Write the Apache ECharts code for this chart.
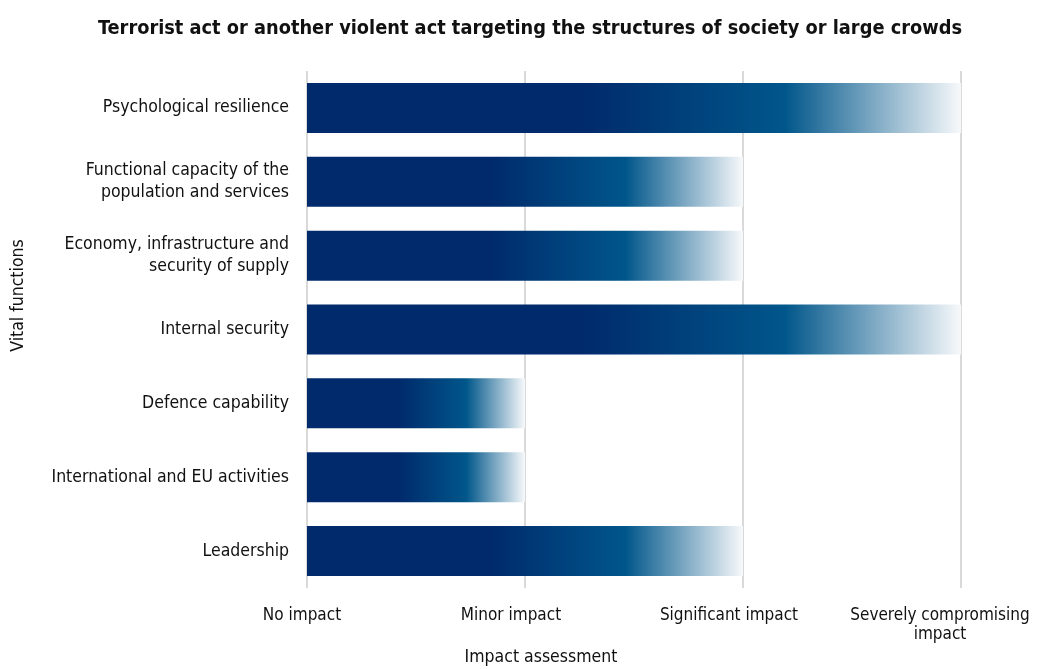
<!DOCTYPE html>
<html>
<head>
<meta charset="utf-8">
<script src="https://cdn.jsdelivr.net/npm/echarts@6/dist/echarts.min.js"></script>
<style>
  html, body { margin: 0; padding: 0; background: #fff; }
  #chart { width: 1037px; height: 669px; }
</style>
</head>
<body>
<div id="chart"></div>
<script>
// Vital functions and their impact scores (0 = no impact … 3 = severely compromising)
const categories = [
  'Psychological resilience',
  'Functional capacity of the\npopulation and services',
  'Economy, infrastructure and\nsecurity of supply',
  'Internal security',
  'Defence capability',
  'International and EU activities',
  'Leadership'
];
const impactValues = [3, 2, 2, 3, 1, 1, 2];
const tickLabels = ['No impact', 'Minor impact', 'Significant impact', 'Severely compromising\nimpact'];

const FONT = '"Liberation Sans Narrow", "DejaVu Sans Condensed", "Roboto Condensed", sans-serif';

// Each bar fades from navy through a mid blue to white
const barGradient = new echarts.graphic.LinearGradient(0, 0, 1, 0, [
  { offset: 0, color: '#002a6c' },
  { offset: 0.42, color: '#002a6c' },
  { offset: 0.73, color: '#00568a' },
  { offset: 1, color: '#f7f9fb' }
]);

const tickTextStyle = { fontFamily: FONT, fontSize: 17, color: '#111', lineHeight: 19, align: 'center' };

const chart = echarts.init(document.getElementById('chart'), null, { renderer: 'canvas' });
chart.setOption({
  animation: false,
  title: {
    text: 'Terrorist act or another violent act targeting the structures of society or large crowds',
    left: 525,
    textAlign: 'center',
    top: 14,
    textStyle: { fontFamily: FONT, fontWeight: 'bold', fontSize: 19.8, color: '#111' }
  },
  grid: { left: 307, right: 76, top: 71, bottom: 81, containLabel: false, outerBoundsMode: 'none' },
  xAxis: {
    type: 'value',
    min: 0,
    max: 3,
    interval: 1,
    name: 'Impact assessment',
    nameLocation: 'middle',
    nameGap: 60,
    nameTextStyle: { fontFamily: FONT, fontSize: 17.5, color: '#111', padding: [0, 186, 0, 0] },
    axisLine: { show: false },
    axisTick: { show: false },
    axisLabel: {
      fontFamily: FONT, fontSize: 17, color: '#111', margin: 18, lineHeight: 19,
      verticalAlign: 'top',
      formatter: v => {
        const t = tickLabels[v];
        if (t === undefined) return '';
        const style = v === 0 ? 'a' : (v === tickLabels.length - 1 ? 'c' : 'b');
        return t.split('\n').map(line => '{' + style + '|' + line + '}').join('\n');
      },
      rich: {
        a: Object.assign({ padding: [0, 10, 0, 0] }, tickTextStyle),
        b: Object.assign({ padding: [0, 28, 0, 0] }, tickTextStyle),
        c: Object.assign({ padding: [0, 42, 0, 0] }, tickTextStyle)
      }
    },
    splitLine: { show: true, lineStyle: { color: '#d9d9d9', width: 2 } }
  },
  yAxis: {
    type: 'category',
    data: categories,
    inverse: true,
    name: 'Vital functions',
    nameLocation: 'middle',
    nameGap: 280,
    nameRotate: 90,
    nameTextStyle: { fontFamily: FONT, fontSize: 17.5, color: '#111', padding: [0, 0, 0, 68] },
    axisLine: { show: false },
    axisTick: { show: false },
    axisLabel: {
      fontFamily: FONT, fontSize: 17.5, color: '#111', margin: 18, lineHeight: 22, align: 'right'
    }
  },
  series: [{
    type: 'bar',
    data: impactValues,
    barWidth: 50,
    itemStyle: { color: barGradient }
  }]
});
</script>
</body>
</html>
